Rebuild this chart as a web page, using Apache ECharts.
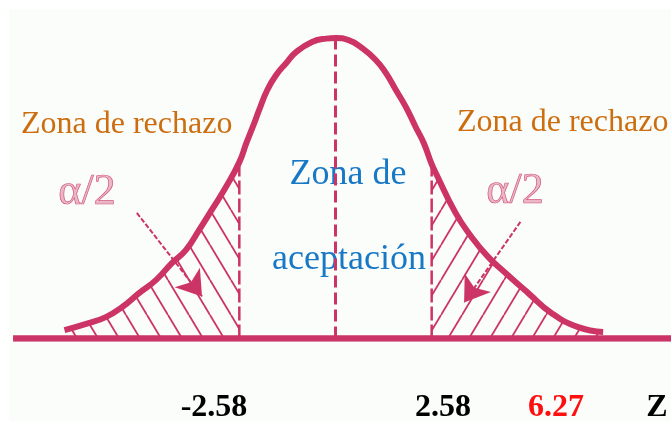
<!DOCTYPE html>
<html>
<head>
<meta charset="utf-8">
<script src="https://cdn.jsdelivr.net/npm/echarts@6/dist/echarts.min.js"></script>
<style>
  html, body { margin: 0; padding: 0; background: #ffffff; }
  #main { width: 671px; height: 421px; }
</style>
</head>
<body>
<div id="main"></div>
<script>
// Standardised statistic (schematic scale) and relative curve height
const zValues = [-7.27, -6.60, -6.15, -5.72, -5.27, -4.81, -4.39, -4.01, -3.66, -3.32, -2.94, -2.58,
  -2.39, -2.18, -2.05, -1.83, -1.59, -1.32, -1.06, -0.63, -0.25, 0, 0.35, 0.71, 1.08, 1.35, 1.62,
  1.89, 2.15, 2.37, 2.58, 2.69, 3.22, 3.65, 4.10, 4.56, 5.17, 5.79, 6.51, 7.18];
const heights = [0.028, 0.052, 0.072, 0.105, 0.151, 0.195, 0.251, 0.295, 0.361, 0.428, 0.504, 0.587,
  0.651, 0.717, 0.760, 0.827, 0.877, 0.917, 0.953, 0.987, 0.998, 1.000, 0.993, 0.967, 0.927, 0.884, 0.827,
  0.770, 0.704, 0.650, 0.580, 0.551, 0.418, 0.338, 0.271, 0.218, 0.151, 0.085, 0.038, 0.022];

// Critical values and observed statistic
const criticalValues = [-2.58, 2.58];
const observedValue = 6.27;
const tickLabels = ['-2.58', '2.58', '6.27', 'Z'];

// Annotation texts
const rejectText = 'Zona de rechazo';
const acceptTexts = ['Zona de', 'aceptación'];
const alphaText = 'α/2';

// Arrows pointing at each tail: [start, end] in (z, height)
const arrowLeft = [[-5.33, 0.418], [-3.58, 0.140]];
const arrowRight = [[4.96, 0.388], [3.45, 0.120]];

const CRIMSON = '#cc3366';
const curve = zValues.map((z, i) => [z, heights[i]]);
const leftTail = curve.filter(p => p[0] <= criticalValues[0]);
const rightTail = curve.filter(p => p[0] >= criticalValues[1]);
const heightAt = z => heights[zValues.indexOf(z)];

// Diagonal hatch tile; dir = 1 draws "\" strokes, dir = -1 draws "/"
function hatchTile(dir) {
  const w = 21, h = 35;
  const c = document.createElement('canvas');
  c.width = w; c.height = h;
  const g = c.getContext('2d');
  g.strokeStyle = CRIMSON;
  g.lineWidth = 1.8;
  for (let k = -1; k <= 1; k++) {
    g.beginPath();
    if (dir > 0) { g.moveTo(k * w, 0); g.lineTo(k * w + w, h); }
    else { g.moveTo(k * w + w, 0); g.lineTo(k * w, h); }
    g.stroke();
  }
  return c;
}

const serif = '"Liberation Serif", "Times New Roman", serif';
function txt(text, x, y, size, color, extra) {
  extra = extra || {};
  return {
    type: 'text', x: x, y: y, z: 1,
    style: {
      text: text, fill: color,
      font: (extra.weight ? extra.weight + ' ' : '') + size + 'px ' + serif,
      textAlign: extra.align || 'center', align: extra.align || 'center',
      textVerticalAlign: 'middle', verticalAlign: 'middle',
      stroke: extra.stroke, lineWidth: extra.lineWidth
    }
  };
}

const chart = echarts.init(document.getElementById('main'), null, { renderer: 'canvas' });
chart.setOption({
  backgroundColor: '#ffffff',
  animation: false,
  grid: { left: 0, right: -2, top: 8, bottom: 82.5 },
  xAxis: { type: 'value', min: -9, max: 9, show: false },
  yAxis: { type: 'value', min: 0, max: 1.1, show: false },
  graphic: [
    { type: 'rect', shape: { x: 9, y: 9, width: 662, height: 412 }, style: { fill: '#fbfdfb' }, z: 0 },
    txt(rejectText, 21, 125, 32, '#cc6e10', { align: 'left' }),
    txt(rejectText, 457, 123, 32, '#cc6e10', { align: 'left' }),
    txt(acceptTexts[0], 348, 175, 36, '#1778c6'),
    txt(acceptTexts[1], 349, 260, 36, '#1778c6'),
    txt(alphaText, 87, 192, 44, 'rgba(204,51,102,0.35)', { stroke: 'rgba(204,51,102,0.8)', lineWidth: 0.7 }),
    txt(alphaText, 515, 191, 44, 'rgba(204,51,102,0.35)', { stroke: 'rgba(204,51,102,0.8)', lineWidth: 0.7 }),
    txt(tickLabels[0], 214, 408, 32, '#000000', { weight: 'bold' }),
    txt(tickLabels[1], 443, 408, 32, '#000000', { weight: 'bold' }),
    txt(tickLabels[2], 556, 408, 32, '#ff1010', { weight: 'bold' }),
    txt(tickLabels[3], 657, 408, 32, '#000000', { weight: 'bold' })
  ],
  series: [
    {
      type: 'line', data: leftTail, smooth: 0.5, symbol: 'none', z: 2,
      lineStyle: { width: 0 },
      areaStyle: { color: { image: hatchTile(1), repeat: 'repeat' }, opacity: 1 }
    },
    {
      type: 'line', data: rightTail, smooth: 0.5, symbol: 'none', z: 2,
      lineStyle: { width: 0 },
      areaStyle: { color: { image: hatchTile(-1), repeat: 'repeat' }, opacity: 1 }
    },
    {
      type: 'line', symbol: 'none', z: 3,
      data: [[criticalValues[0], 0], [criticalValues[0], heightAt(criticalValues[0])]],
      lineStyle: { color: CRIMSON, width: 2.5, type: [14, 4] }
    },
    {
      type: 'line', symbol: 'none', z: 3,
      data: [[criticalValues[1], 0], [criticalValues[1], heightAt(criticalValues[1])]],
      lineStyle: { color: CRIMSON, width: 2.5, type: [14, 4] }
    },
    {
      type: 'line', symbol: 'none', z: 3,
      data: [[0, 0], [0, 1]],
      lineStyle: { color: CRIMSON, width: 3, type: [12, 5] }
    },
    {
      type: 'line', symbol: 'none', z: 4,
      data: [[-8.65, 0], [9, 0]],
      lineStyle: { color: CRIMSON, width: 6.5 }
    },
    {
      type: 'line', data: curve, smooth: 0.5, symbol: 'none', z: 5,
      lineStyle: { color: CRIMSON, width: 6 },
      markLine: {
        silent: true, animation: false,
        symbol: ['none', 'arrow'], symbolSize: 24,
        label: { show: false },
        lineStyle: { color: CRIMSON, width: 2, type: [5, 2] },
        data: [
          [{ coord: arrowLeft[0] }, { coord: arrowLeft[1] }],
          [{ coord: arrowRight[0] }, { coord: arrowRight[1] }]
        ]
      }
    }
  ]
});
</script>
</body>
</html>
